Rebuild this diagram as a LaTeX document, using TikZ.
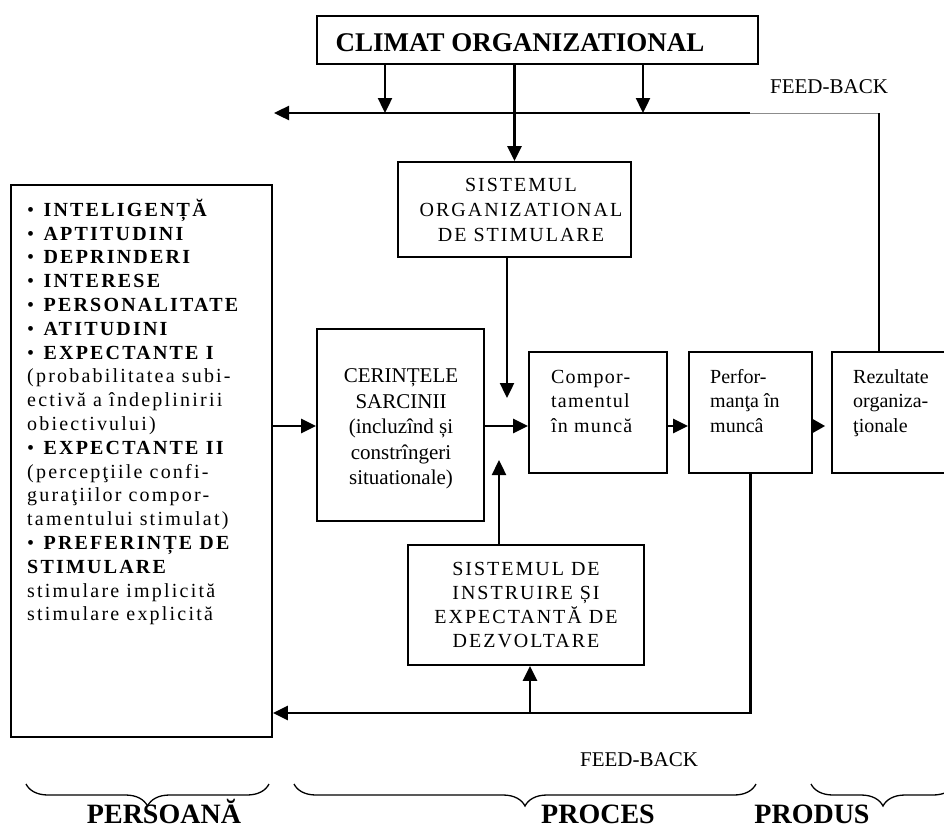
\documentclass[tikz,border=0pt]{standalone}
\usepackage{fontspec}
\setmainfont{Liberation Serif}
\newfontfamily\lsfont[LetterSpace=10]{Liberation Serif}
\newfontfamily\lswide[LetterSpace=11]{Liberation Serif}
\newfontfamily\lsnarrow[LetterSpace=6]{Liberation Serif}
\usetikzlibrary{arrows.meta,decorations.pathreplacing,calc}

\tikzset{
  box/.style={draw, line width=1.8pt, inner sep=0pt, anchor=center},
  txt/.style={inner sep=0pt, font=\fontsize{20}{24}\selectfont},
  flow/.style={line width=2.4pt, -{Triangle[length=15pt,width=14pt]}},
  link/.style={line width=2.4pt},
  faint/.style={line width=1pt, draw=black!45},
  curly/.style={line width=1.3pt, decorate, decoration={brace, mirror, amplitude=22pt}},
  biglabel/.style={inner sep=0pt, anchor=base, font=\bfseries\fontsize{28}{30}\selectfont},
  fblabel/.style={inner sep=0pt, font=\fontsize{21}{24}\selectfont}
}

\begin{document}
\begin{tikzpicture}[x=1pt,y=-1pt]
\useasboundingbox (0,0) rectangle (944,830);
\clip (0,0) rectangle (944,830);

% boxes
\node[box, minimum width=441pt, minimum height=48pt] (climat) at (537.5,40) {};
\node[inner sep=0pt, font=\bfseries\fontsize{27}{30}\selectfont] (climatT) at (520,42.5) {CLIMAT ORGANIZATIONAL};

\node[box, minimum width=233pt, minimum height=95pt] (sorg) at (514.5,209.5) {};
\node[txt, align=center, font=\lsfont\fontsize{20}{25}\selectfont] (sorgT) at (521,209.5) {SISTEMUL\\ORGANIZATIONAL\\DE STIMULARE};

\node[box, minimum width=167pt, minimum height=192pt] (cer) at (400.5,425) {};
\node[txt, align=center, font=\fontsize{21}{25.5}\selectfont] (cerT) at (401,429) {CERINȚELE\\SARCINII\\(incluzînd și\\constrîngeri\\situationale)};

\node[box, minimum width=138pt, minimum height=121pt] (comp) at (598,412.5) {};
\node[txt, align=left, anchor=north west, font=\lsnarrow\fontsize{20}{24.5}\selectfont] (compT) at (551,365) {\rule{0pt}{18pt}Compor-\\tamentul\\în muncă};

\node[box, minimum width=123pt, minimum height=121pt] (perf) at (750.5,412.5) {};
\node[txt, align=left, anchor=north west, font=\fontsize{20}{24.5}\selectfont] (perfT) at (710,365) {\rule{0pt}{18pt}Perfor-\\manţa în\\muncâ};

\node[box, minimum width=128pt, minimum height=121pt] (rez) at (896,412.5) {};
\node[txt, align=left, anchor=north west, font=\fontsize{20}{24.5}\selectfont] (rezT) at (853,365) {\rule{0pt}{18pt}Rezultate\\organiza-\\ţionale};

\node[box, minimum width=236pt, minimum height=120pt] (instr) at (526,605) {};
\node[txt, align=center, font=\lsfont\fontsize{20}{24}\selectfont] (instrT) at (526,605) {SISTEMUL DE\\INSTRUIRE ȘI\\EXPECTANTĂ DE\\DEZVOLTARE};

\node[box, minimum width=261pt, minimum height=552pt] (pers) at (141.5,461) {};
\node[txt, align=left, anchor=north west, font=\lswide\fontsize{20}{23.8}\selectfont] (persT) at (27,198) {\rule{0pt}{18pt}• \textbf{INTELIGENȚĂ}\\
• \textbf{APTITUDINI}\\
• \textbf{DEPRINDERI}\\
• \textbf{INTERESE}\\
• \textbf{PERSONALITATE}\\
• \textbf{ATITUDINI}\\
• \textbf{EXPECTANTE I}\\
(probabilitatea subi-\\
ectivă a îndeplinirii\\
obiectivului)\\
• \textbf{EXPECTANTE II}\\
(percepţiile confi-\\
guraţiilor compor-\\
tamentului stimulat)\\
• \textbf{PREFERINȚE DE}\\
\textbf{STIMULARE}\\
stimulare implicită\\
stimulare explicită};

% junction points of the connectors
\coordinate (busL) at (274,113);
\coordinate (busR) at (750,113);
\coordinate (fbTurn) at (879,113);
\coordinate (c1) at (385,113);
\coordinate (c2) at (514.5,113);
\coordinate (c3) at (643,113);
\coordinate (stimTip) at (507,398);
\coordinate (instrTip) at (499,460);
\coordinate (midY) at (0,426);
\coordinate (loopR) at (750.5,713);
\coordinate (loopUp) at (530,713);

% climate feeding the upper bus
\draw[flow] (busR) -- (busL);
\draw[flow] (climat.south -| c1) -- (c1);
\draw[flow] (climat.south -| c3) -- (c3);
\draw[link] (climat.south -| c2) -- (c2);
\draw[flow] (c2) -- (sorg.north);
\draw[faint] (busR) -- (fbTurn);
\draw[line width=1.2pt] (fbTurn) -- (rez.north -| fbTurn);

% main chain
\draw[flow] (sorg.south -| stimTip) -- (stimTip);
\draw[flow] (instr.north -| instrTip) -- (instrTip);
\draw[flow] (pers.east |- midY) -- (cer.west |- midY);
\draw[flow] (cer.east |- midY) -- (comp.west |- midY);
\draw[flow] (comp.east |- midY) -- (perf.west |- midY);
\draw[line width=2.4pt, -{Triangle[length=13pt,width=14pt]}, shorten >=6pt] (perf.east |- midY) -- (rez.west |- midY);

% lower feedback loop
\draw[flow] (perf.south) -- (loopR) -- (pers.east |- loopR);
\draw[flow] (loopUp) -- (instr.south -| loopUp);

% labels
\node[fblabel] (fbTop) at (829,87) {FEED-BACK};
\node[fblabel] (fbBot) at (639,760) {FEED-BACK};

\draw[curly] (26,784) -- (269,784);
\draw[curly] (294,784) -- (756,784);
\draw[curly] (811,784) -- (955,784);

\node[biglabel] (lblPers) at (164,823) {PERSOANĂ};
\node[biglabel] (lblProc) at (598,823) {PROCES};
\node[biglabel] (lblProd) at (812,823) {PRODUS};
\end{tikzpicture}
\end{document}
